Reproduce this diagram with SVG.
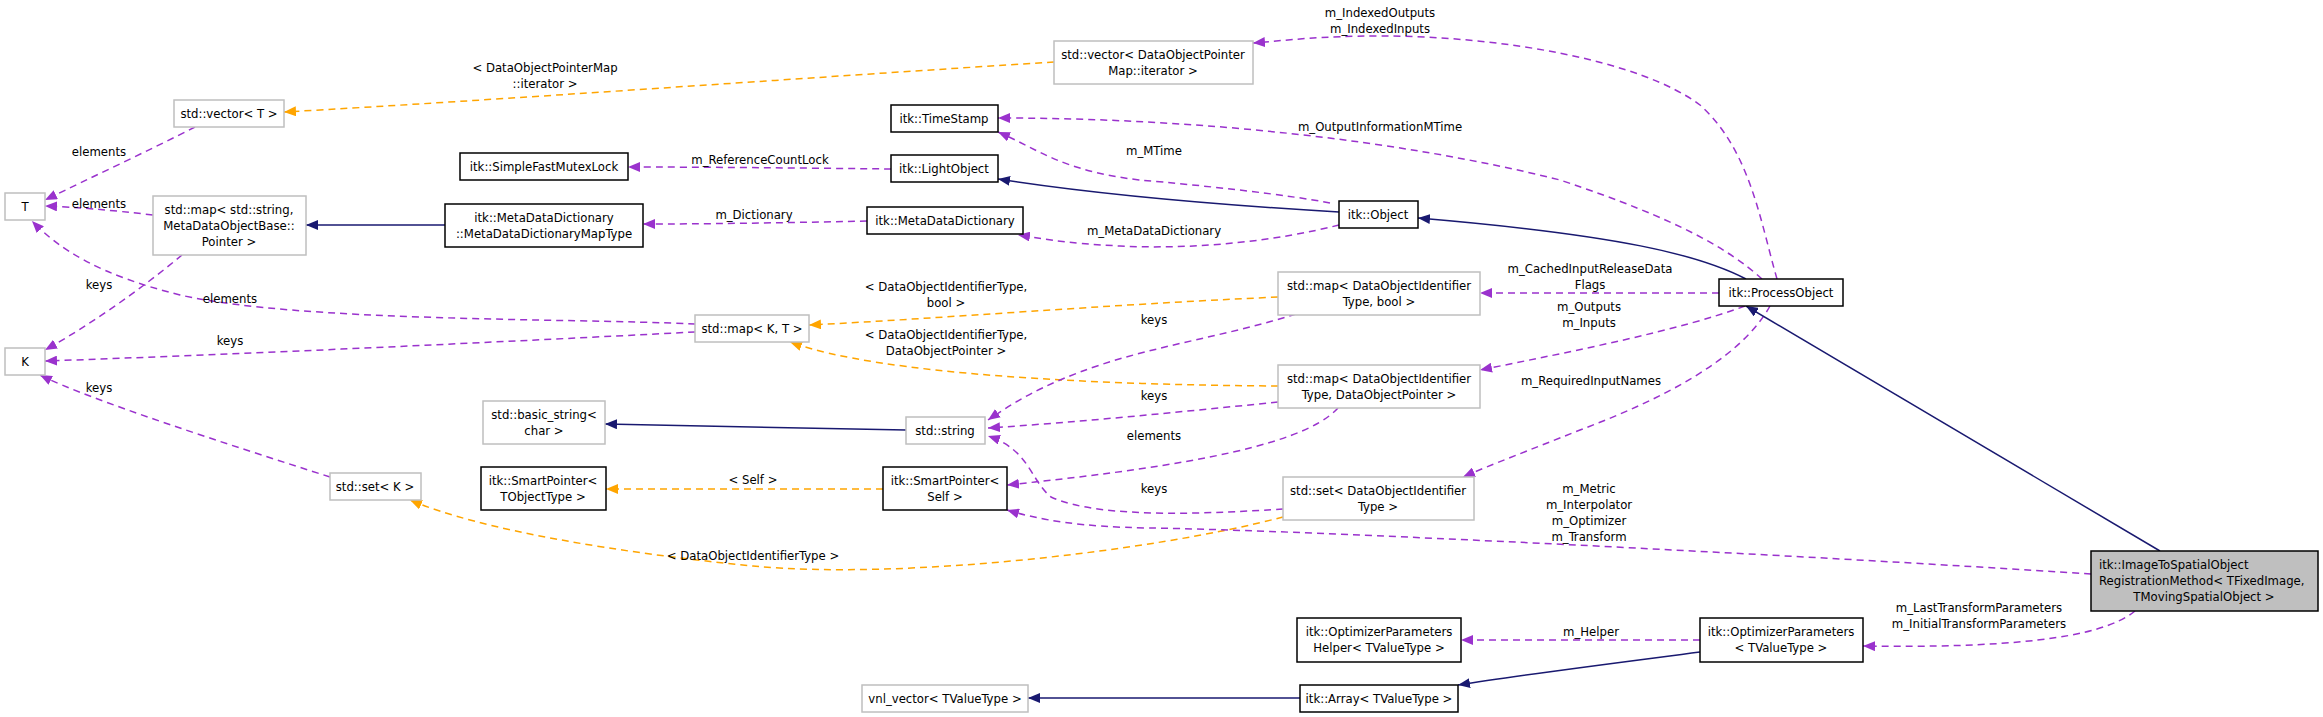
<svg xmlns="http://www.w3.org/2000/svg" width="2323" height="717" viewBox="0 0 2323 717">
<defs>
<marker id="ap" markerWidth="12" markerHeight="10" refX="12" refY="5" orient="auto" markerUnits="userSpaceOnUse"><path d="M0,0 L12,5 L0,10 z" fill="#9a32cd"/></marker>
<marker id="ao" markerWidth="12" markerHeight="10" refX="12" refY="5" orient="auto" markerUnits="userSpaceOnUse"><path d="M0,0 L12,5 L0,10 z" fill="#ffa500"/></marker>
<marker id="an" markerWidth="12" markerHeight="10" refX="12" refY="5" orient="auto" markerUnits="userSpaceOnUse"><path d="M0,0 L12,5 L0,10 z" fill="#191970"/></marker>
</defs>
<style>
text{font-family:"DejaVu Sans Condensed","DejaVu Sans",sans-serif;font-stretch:condensed;font-size:13px;fill:#000;text-anchor:middle}
.g rect{fill:#fff;stroke:#bfbfbf;stroke-width:1.5}
.b rect{fill:#fff;stroke:#000;stroke-width:1.5}
.m rect{fill:#bfbfbf;stroke:#000;stroke-width:1.5}
.p{fill:none;stroke:#9a32cd;stroke-width:1.5;stroke-dasharray:7,5;marker-end:url(#ap)}
.o{fill:none;stroke:#ffa500;stroke-width:1.5;stroke-dasharray:7,5;marker-end:url(#ao)}
.n{fill:none;stroke:#191970;stroke-width:1.5;marker-end:url(#an)}
</style>
<rect width="2323" height="717" fill="#fff"/>
<g id="connectors">
<path class="o" d="M1054,62 C800,78 500,100 284,112"/>
<path class="p" d="M195,127 C150,150 90,178 45,200"/>
<path class="p" d="M153,215 C110,210 75,207 45,206"/>
<path class="p" d="M695,324 C560,318 300,322 180,295 C100,275 60,250 32,221"/>
<path class="p" d="M695,332 C500,342 250,354 45,361"/>
<path class="p" d="M182,255 C140,290 90,325 45,350"/>
<path class="p" d="M330,477 C230,445 90,400 40,375"/>
<path class="n" d="M445,225 L306,225"/>
<path class="p" d="M867,221 C780,223 700,224 643,224"/>
<path class="p" d="M891,169 C800,168 700,167 628,167"/>
<path class="n" d="M1339,212 C1220,205 1100,195 998,179"/>
<path class="p" d="M1330,203 C1290,195 1200,185 1139,180 C1060,170 1040,150 998,132"/>
<path class="p" d="M1339,225 C1280,240 1200,250 1120,246 C1060,243 1040,238 1018,235"/>
<path class="n" d="M1746,279 C1700,255 1620,235 1418,218"/>
<path class="p" d="M1762,279 C1730,250 1680,220 1560,180 C1400,140 1200,118 998,118"/>
<path class="p" d="M1777,279 C1760,220 1750,150 1700,105 C1640,60 1500,36 1380,36 C1320,36 1290,40 1253,43"/>
<path class="p" d="M1719,293 L1480,293"/>
<path class="p" d="M1745,306 C1680,330 1580,350 1480,370"/>
<path class="p" d="M1770,306 C1740,360 1660,400 1580,430 C1530,450 1490,465 1463,477"/>
<path class="o" d="M1278,297 C1100,305 950,318 809,325"/>
<path class="o" d="M1278,386 C1100,385 880,375 790,342"/>
<path class="p" d="M1296,314 C1230,335 1160,345 1100,365 C1040,385 1010,405 988,420"/>
<path class="p" d="M1278,402 C1180,412 1080,422 988,428"/>
<path class="p" d="M1338,408 C1300,450 1150,470 1007,485"/>
<path class="p" d="M1283,509 C1220,513 1100,520 1051,497 C1030,480 1030,450 988,436"/>
<path class="o" d="M1283,517 C1150,552 900,580 753,566 C620,553 480,530 410,500"/>
<path class="n" d="M906,430 C800,428 700,426 605,424"/>
<path class="o" d="M883,489 L606,489"/>
<path class="p" d="M2091,574 C1800,555 1300,530 1150,528 C1080,527 1040,520 1007,510"/>
<path class="n" d="M2160,551 L1746,306"/>
<path class="p" d="M2135,611 C2100,640 2000,648 1863,646"/>
<path class="p" d="M1700,640 L1461,640"/>
<path class="n" d="M1700,652 C1600,665 1520,675 1458,685"/>
<path class="n" d="M1300,698 L1028,698"/>
</g>
<g id="edge-labels">
<text x="545" y="72">&lt; DataObjectPointerMap</text><text x="545" y="88">::iterator &gt;</text>
<text x="99" y="156">elements</text>
<text x="99" y="208">elements</text>
<text x="99" y="289">keys</text>
<text x="230" y="303">elements</text>
<text x="230" y="345">keys</text>
<text x="99" y="392">keys</text>
<text x="760" y="164">m_ReferenceCountLock</text>
<text x="754" y="219">m_Dictionary</text>
<text x="1154" y="155">m_MTime</text>
<text x="1154" y="235">m_MetaDataDictionary</text>
<text x="1380" y="17">m_IndexedOutputs</text><text x="1380" y="33">m_IndexedInputs</text>
<text x="1380" y="131">m_OutputInformationMTime</text>
<text x="1590" y="273">m_CachedInputReleaseData</text><text x="1590" y="289">Flags</text>
<text x="1589" y="311">m_Outputs</text><text x="1589" y="327">m_Inputs</text>
<text x="1591" y="385">m_RequiredInputNames</text>
<text x="946" y="291">&lt; DataObjectIdentifierType,</text><text x="946" y="307">bool &gt;</text>
<text x="946" y="339">&lt; DataObjectIdentifierType,</text><text x="946" y="355">DataObjectPointer &gt;</text>
<text x="1154" y="324">keys</text>
<text x="1154" y="400">keys</text>
<text x="1154" y="440">elements</text>
<text x="1154" y="493">keys</text>
<text x="753" y="484">&lt; Self &gt;</text>
<text x="753" y="560">&lt; DataObjectIdentifierType &gt;</text>
<text x="1589" y="493">m_Metric</text><text x="1589" y="509">m_Interpolator</text><text x="1589" y="525">m_Optimizer</text><text x="1589" y="541">m_Transform</text>
<text x="1979" y="612">m_LastTransformParameters</text><text x="1979" y="628">m_InitialTransformParameters</text>
<text x="1591" y="636">m_Helper</text>
</g>
<g id="T" class="g"><rect x="5" y="193" width="40" height="27"/><text x="25" y="211">T</text></g>
<g id="K" class="g"><rect x="5" y="348" width="40" height="27"/><text x="25" y="366">K</text></g>
<g id="vectorT" class="g"><rect x="174" y="100" width="110" height="27"/><text x="229" y="118">std::vector&lt; T &gt;</text></g>
<g id="mapString" class="g"><rect x="153" y="196" width="153" height="59"/><text x="229" y="214">std::map&lt; std::string,</text><text x="229" y="230">MetaDataObjectBase::</text><text x="229" y="246">Pointer &gt;</text></g>
<g id="mutex" class="b"><rect x="460" y="153" width="168" height="27"/><text x="544" y="171">itk::SimpleFastMutexLock</text></g>
<g id="mapType" class="b"><rect x="445" y="204" width="198" height="43"/><text x="544" y="222">itk::MetaDataDictionary</text><text x="544" y="238">::MetaDataDictionaryMapType</text></g>
<g id="vectorDOP" class="g"><rect x="1054" y="41" width="199" height="43"/><text x="1153" y="59">std::vector&lt; DataObjectPointer</text><text x="1153" y="75">Map::iterator &gt;</text></g>
<g id="timestamp" class="b"><rect x="891" y="105" width="107" height="27"/><text x="944" y="123">itk::TimeStamp</text></g>
<g id="lightobject" class="b"><rect x="891" y="155" width="107" height="27"/><text x="944" y="173">itk::LightObject</text></g>
<g id="metadict" class="b"><rect x="867" y="207" width="156" height="27"/><text x="945" y="225">itk::MetaDataDictionary</text></g>
<g id="object" class="b"><rect x="1339" y="201" width="79" height="27"/><text x="1378" y="219">itk::Object</text></g>
<g id="mapKT" class="g"><rect x="695" y="315" width="114" height="27"/><text x="752" y="333">std::map&lt; K, T &gt;</text></g>
<g id="mapBool" class="g"><rect x="1278" y="272" width="202" height="43"/><text x="1379" y="290">std::map&lt; DataObjectIdentifier</text><text x="1379" y="306">Type, bool &gt;</text></g>
<g id="mapDOP" class="g"><rect x="1278" y="365" width="202" height="43"/><text x="1379" y="383">std::map&lt; DataObjectIdentifier</text><text x="1379" y="399">Type, DataObjectPointer &gt;</text></g>
<g id="processobject" class="b"><rect x="1719" y="279" width="124" height="27"/><text x="1781" y="297">itk::ProcessObject</text></g>
<g id="basicstring" class="g"><rect x="483" y="401" width="122" height="43"/><text x="544" y="419">std::basic_string&lt;</text><text x="544" y="435">char &gt;</text></g>
<g id="string" class="g"><rect x="906" y="417" width="79" height="27"/><text x="945" y="435">std::string</text></g>
<g id="spT" class="b"><rect x="481" y="467" width="125" height="43"/><text x="543" y="485">itk::SmartPointer&lt;</text><text x="543" y="501">TObjectType &gt;</text></g>
<g id="spSelf" class="b"><rect x="883" y="467" width="124" height="43"/><text x="945" y="485">itk::SmartPointer&lt;</text><text x="945" y="501">Self &gt;</text></g>
<g id="setK" class="g"><rect x="330" y="473" width="91" height="27"/><text x="375" y="491">std::set&lt; K &gt;</text></g>
<g id="setDOI" class="g"><rect x="1283" y="477" width="191" height="43"/><text x="1378" y="495">std::set&lt; DataObjectIdentifier</text><text x="1378" y="511">Type &gt;</text></g>
<g id="main" class="m"><rect x="2091" y="551" width="227" height="60"/><text x="2091" y="569" style="text-anchor:start" dx="8">itk::ImageToSpatialObject</text><text x="2091" y="585" style="text-anchor:start" dx="8">RegistrationMethod&lt; TFixedImage,</text><text x="2204" y="601">TMovingSpatialObject &gt;</text></g>
<g id="optHelper" class="b"><rect x="1297" y="618" width="164" height="44"/><text x="1379" y="636">itk::OptimizerParameters</text><text x="1379" y="652">Helper&lt; TValueType &gt;</text></g>
<g id="optParams" class="b"><rect x="1700" y="618" width="163" height="44"/><text x="1781" y="636">itk::OptimizerParameters</text><text x="1781" y="652">&lt; TValueType &gt;</text></g>
<g id="array" class="b"><rect x="1300" y="685" width="158" height="27"/><text x="1379" y="703">itk::Array&lt; TValueType &gt;</text></g>
<g id="vnl" class="g"><rect x="862" y="685" width="166" height="27"/><text x="945" y="703">vnl_vector&lt; TValueType &gt;</text></g>
</svg>
